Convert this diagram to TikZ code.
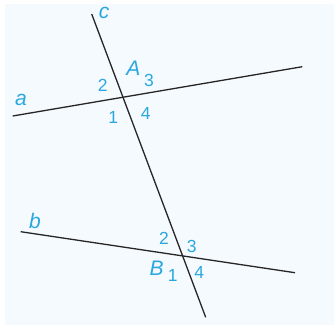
\documentclass[tikz,border=0pt]{standalone}
\usepackage{fontspec}
\setmainfont{Liberation Sans}
\usetikzlibrary{calc}
\definecolor{labelblue}{RGB}{41,168,224}
\definecolor{paper}{RGB}{245,250,254}
\begin{document}
\begin{tikzpicture}[x=1pt,y=-1pt,
  ln/.style={line width=1.3pt,black!85},
  lbl/.style={text=labelblue,font=\fontsize{17.5}{17.5}\selectfont,inner sep=0pt},
  pt/.style={text=labelblue,font=\fontsize{21}{21}\selectfont\itshape,inner sep=0pt}]
\useasboundingbox (0,0) rectangle (334,325);
\fill[paper] (5,4) rectangle (334,325);
% lines
\coordinate (c1) at (91.7,14);
\coordinate (c2) at (205.7,317.3);
\coordinate (a1) at (12.7,116);
\coordinate (a2) at (302.3,66.7);
\coordinate (b1) at (20.7,231.7);
\coordinate (b2) at (295,272.7);
\draw[ln] (c1) -- (c2);
\draw[ln] (a1) -- (a2);
\draw[ln] (b1) -- (b2);
% line names
\node[pt] (nc) at (104,12.7) {c};
\node[pt] (na) at (21,100) {a};
\node[pt] (nb) at (35,220.7) {b};
% point A
\node[pt] (A) at (133.3,68.3) {A};
\node[lbl] (A1) at (113.3,117.3) {1};
\node[lbl] (A2) at (102.7,85) {2};
\node[lbl] (A3) at (149,80) {3};
\node[lbl] (A4) at (145.7,113.3) {4};
% point B
\node[pt] (B) at (156.7,268.3) {B};
\node[lbl] (B1) at (172.7,275) {1};
\node[lbl] (B2) at (164,238.3) {2};
\node[lbl] (B3) at (191.7,246) {3};
\node[lbl] (B4) at (199.3,272.7) {4};
\end{tikzpicture}
\end{document}
